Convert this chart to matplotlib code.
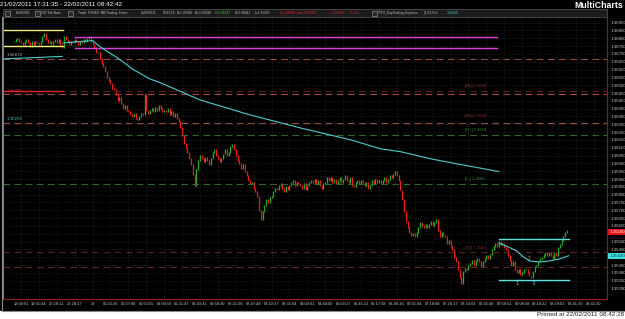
import numpy as np
import matplotlib.pyplot as plt
from matplotlib.patches import Rectangle
from matplotlib.lines import Line2D
from matplotlib.transforms import blended_transform_factory

plt.rcParams['font.family'] = ['Liberation Sans Narrow', 'Liberation Sans', 'DejaVu Sans']

W, H = 625, 319

# 200 tick bars, closes (first bar index = 5)
first_bar = 5
close = [
    1.3678, 1.3679, 1.3680, 1.3678, 1.3677,
    1.3676, 1.3678, 1.3679, 1.3677, 1.3675, 1.3678, 1.3676, 1.3678, 1.3677, 1.3676,
    1.3678, 1.3681, 1.3683, 1.3679, 1.3677, 1.3678, 1.3676, 1.3678, 1.3679, 1.3677,
    1.3679, 1.3676, 1.3674, 1.3681, 1.3679, 1.3678, 1.3676, 1.3678, 1.3677, 1.3679,
    1.3678, 1.3676, 1.3678, 1.3677, 1.3679, 1.3678, 1.3680, 1.3681, 1.3678, 1.3676,
    1.3674, 1.3671, 1.3671, 1.3667, 1.3664, 1.3662, 1.3659, 1.3655, 1.3653, 1.3651,
    1.3648, 1.3647, 1.3644, 1.3640, 1.3642, 1.3638, 1.3635, 1.3637, 1.3634, 1.3633,
    1.3631, 1.3630, 1.3632, 1.3629, 1.3628, 1.3630, 1.3632, 1.3631, 1.3644, 1.3634,
    1.3632, 1.3634, 1.3635, 1.3633, 1.3636, 1.3634, 1.3637, 1.3635, 1.3633, 1.3634,
    1.3633, 1.3635, 1.3631, 1.3633, 1.3630, 1.3632, 1.3629, 1.3627, 1.3623, 1.3618,
    1.3613, 1.3610, 1.3607, 1.3603, 1.3599, 1.3593, 1.3586, 1.3596, 1.3602, 1.3605,
    1.3603, 1.3601, 1.3604, 1.3602, 1.3599, 1.3603, 1.3607, 1.3609, 1.3605, 1.3603,
    1.3601, 1.3603, 1.3606, 1.3609, 1.3605, 1.3607, 1.3611, 1.3612, 1.3609, 1.3605,
    1.3602, 1.3600, 1.3597, 1.3599, 1.3595, 1.3592, 1.3589, 1.3587, 1.3588, 1.3584,
    1.3582, 1.3579, 1.3570, 1.3564, 1.3569, 1.3573, 1.3577, 1.3575, 1.3578, 1.3579,
    1.3582, 1.3584, 1.3583, 1.3586, 1.3587, 1.3584, 1.3582, 1.3585, 1.3583, 1.3586,
    1.3588, 1.3589, 1.3586, 1.3588, 1.3587, 1.3586, 1.3584, 1.3587, 1.3583, 1.3586,
    1.3588, 1.3589, 1.3588, 1.3590, 1.3587, 1.3589, 1.3586, 1.3584, 1.3587, 1.3588,
    1.3591, 1.3589, 1.3591, 1.3588, 1.3590, 1.3587, 1.3589, 1.3591, 1.3588, 1.3590,
    1.3592, 1.3589, 1.3588, 1.3591, 1.3586, 1.3585, 1.3588, 1.3589, 1.3587, 1.3589,
    1.3588, 1.3586, 1.3588, 1.3584, 1.3586, 1.3589, 1.3587, 1.3590, 1.3588, 1.3589,
    1.3587, 1.3589, 1.3591, 1.3588, 1.3590, 1.3592, 1.3591, 1.3593, 1.3595, 1.3592,
    1.3589, 1.3583, 1.3577, 1.3569, 1.3563, 1.3559, 1.3556, 1.3554, 1.3555, 1.3553,
    1.3556, 1.3559, 1.3562, 1.3560, 1.3559, 1.3561, 1.3559, 1.3561, 1.3563, 1.3560,
    1.3562, 1.3564, 1.3557, 1.3553, 1.3556, 1.3554, 1.3553, 1.3549, 1.3551, 1.3547,
    1.3545, 1.3540, 1.3537, 1.3532, 1.3527, 1.3523, 1.3531, 1.3533, 1.3532, 1.3535,
    1.3536, 1.3538, 1.3535, 1.3538, 1.3539, 1.3537, 1.3534, 1.3537, 1.3539, 1.3541,
    1.3539, 1.3542, 1.3545, 1.3547, 1.3549, 1.3547, 1.3550, 1.3548, 1.3549, 1.3546,
    1.3545, 1.3541, 1.3538, 1.3535, 1.3537, 1.3532, 1.3530, 1.3532, 1.3529, 1.3530,
    1.3532, 1.3532, 1.3530, 1.3528, 1.3527, 1.3531, 1.3534, 1.3535, 1.3537, 1.3539,
    1.3540, 1.3542, 1.3543, 1.3541, 1.3543, 1.3541, 1.3539, 1.3543, 1.3541, 1.3546,
    1.3548, 1.3551, 1.3553, 1.3556, 1.3557,
]

time_labels = ['18:00:01', '19:01:44', '20:28:11', '22:28:17', '22', '00:20:20', '00:37:08',
               '00:50:01', '01:04:59', '01:21:47', '01:43:41', '01:58:30', '02:21:06', '02:47:48',
               '03:10:37', '03:31:04', '04:09:01', '04:44:00', '05:09:27', '05:45:13', '06:17:58',
               '06:48:16', '07:05:04', '07:18:08', '07:26:17', '07:34:03', '07:45:48', '07:58:51',
               '08:08:58', '08:18:22', '08:29:01', '08:41:30', '08:42:30']
price_ticks = [1.3520 + 0.0005 * k for k in range(35)]

# keylines indicator
ma_left_x = [-1, 32]
ma_left_y = [1.36668, 1.36684]
ma_main_x = [32.5, 39, 49, 53, 63, 72, 81, 87, 109, 137, 165, 193, 210, 221, 238, 256, 276]
ma_main_y = [1.36770, 1.36777, 1.36785, 1.36747, 1.36674, 1.36598, 1.36540, 1.36515, 1.36406,
             1.36310, 1.36227, 1.36151, 1.36093, 1.36075, 1.36029, 1.35990, 1.35948]
ma_box_x = [276, 280, 286, 289, 293, 299, 304, 310, 315]
ma_box_y = [1.35490, 1.35472, 1.35440, 1.35408, 1.35376, 1.35370, 1.35376, 1.35389, 1.35410]

yellow_levels = [1.36851, 1.36751]
red_level = 1.36465
magenta_levels = [1.36807, 1.36736]
box_levels = [1.35516, 1.35255]
dashed_levels = [1.36670, 1.36465, 1.36442, 1.36257, 1.36182, 1.35867, 1.35432, 1.35336]
dashed_colors = ['#a04848', '#5a2020', '#a04848', '#a04848', '#2f6a2f', '#2f6a2f', '#5a2020', '#6a2424']
level_texts = [(1.36480, '[R2] 1.3645', '#8a3a3a'), (1.36290, '[R1] 1.3626', '#8a3a3a'),
               (1.36200, '[H+] 1.3618', '#3a8a3a'), (1.35885, '[L-] 1.3588', '#3a8a3a'),
               (1.35445, '[S1] 1.3543', '#7a2a2a')]

last_price = 1.3556
last_text = '1.35580'
ma_last_text = '1.35420'

fig = plt.figure(figsize=(W / 100, H / 100), dpi=100, facecolor='black')
ax = fig.add_axes([3 / W, 1 - 299 / H, 604 / W, 282 / H])
ax.set_facecolor('black')

c = np.array(close)
o = np.r_[c[0], c[:-1]]
x = np.arange(first_bar, first_bar + len(c))
up = c >= o
lo = np.minimum(o, c) - 0.00003
hi = np.maximum(o, c) + 0.00003
ax.vlines(x[up], lo[up], hi[up], color='#22b022', lw=0.9)
ax.vlines(x[~up], lo[~up], hi[~up], color='#ee1c1c', lw=0.9)

for i, lev in enumerate(dashed_levels):
    ax.axhline(lev, color=dashed_colors[i], lw=0.8, ls=(0, (6, 4)))
for lev in yellow_levels:
    ax.plot([-2, 32.5], [lev, lev], color='#f2f27a', lw=1.0)
ax.plot([-2, 32.5], [red_level, red_level], color='#e02020', lw=1.0)
for lev in magenta_levels:
    ax.plot([39, 275], [lev, lev], color='#e040e0', lw=1.0)
for lev in box_levels:
    ax.plot([276, 315], [lev, lev], color='#5ee0e0', lw=1.0)

ax.plot(ma_left_x, ma_left_y, color='#4ccccc', lw=0.8)
ax.plot(ma_main_x, ma_main_y, color='#4ccccc', lw=0.8)
ax.plot(ma_box_x, ma_box_y, color='#4ccccc', lw=0.8)

for y, t, col in level_texts:
    ax.text(257, y, t, color=col, fontsize=3.0, va='bottom')

ax.text(1, 1.36690, '1.36672', color='#9cc0c0', fontsize=3.2, va='center')
ax.text(1, red_level, '1.36431', color='#e03030', fontsize=3.2, va='center')
ax.text(1, 1.36284, '1.36268', color='#40c0c0', fontsize=3.2, va='center')
ax.text(286, 1.35220, '1', color='#5ee0e0', fontsize=4, ha='center')
ax.text(295, 1.35220, '3', color='#5ee0e0', fontsize=4, ha='center')
ax.text(293, 1.35385, '2', color='#aaaaaa', fontsize=3.4, ha='center')

ax.set_xlim(-1.06, 336.4)
ax.set_ylim(1.35133, 1.36936)
ax.set_xticks([9 + 10 * k for k in range(len(time_labels))])
ax.set_xticklabels(time_labels)
ax.yaxis.tick_right()
ax.set_yticks(price_ticks)
# labels hidden behind the last-price and indicator boxes
ax.set_yticklabels(['' if abs(p - 1.3555) < 1e-6 or abs(p - 1.3540) < 1e-6 else '%.5f' % p
                    for p in price_ticks])
ax.tick_params(axis='x', labelsize=2.9, colors='#c8c8c8', length=0, pad=2.5)
ax.tick_params(axis='y', labelsize=3.2, colors='#c8c8c8', length=0, pad=2.5)
ax.grid(True, color='#333333', ls=(0, (1, 2)), lw=0.5)
ax.spines['top'].set_visible(False)
ax.spines['left'].set_color('#7a7a7a')
ax.spines['bottom'].set_color('#8b1a1a')
ax.spines['right'].set_color('#8b1a1a')
for s in ax.spines.values():
    s.set_linewidth(0.8)

tr = blended_transform_factory(ax.transAxes, ax.transData)
ax.text(1.004, last_price, last_text, transform=tr, color='white', fontsize=3.2, va='center',
        bbox=dict(boxstyle='square,pad=0.25', fc='#e81010', ec='none'), clip_on=False)
ax.text(1.004, ma_box_y[-1], ma_last_text, transform=tr, color='#103030', fontsize=3.2, va='center',
        bbox=dict(boxstyle='square,pad=0.25', fc='#40e0e0', ec='none'), clip_on=False)

# header bar
fig.patches.append(Rectangle((3 / W, 1 - 17 / H), 604 / W, 8 / H, transform=fig.transFigure,
                             fc='#1c1c1c', ec='#5a5a5a', lw=0.5, zorder=5))
header = [(16, 'EUR/USD', '#c0c0c0'), (41, '200 Tick Bars', '#c0c0c0'),
          (78, 'Trade  FOREX  MB Trading  Forex', '#c0c0c0'), (141, '22/02/2011', '#c0c0c0'),
          (163, '08:42:10', '#c0c0c0'), (177, 'B=1.35588', '#c0c0c0'), (195, 'A=1.35588', '#c0c0c0'),
          (215, 'O=1.36183', '#30d030'), (235, 'H=1.36841', '#c0c0c0'), (255, 'L=1.35253', '#c0c0c0'),
          (280, 'C=1.35580', '#e02020'), (297, 'Last=1.35580', '#e02020'), (332, '-0.01108', '#e02020'),
          (350, '-0.81%', '#e02020'), (378, 'TTFX_DayTrading_Keylines', '#c0c0c0'),
          (424, '(4,0,0,0,0)', '#c0c0c0'), (447, '1.35420', '#40d0d0')]
for px, t, col in header:
    fig.text(px / W, 1 - 12.8 / H, t, color=col, fontsize=2.35, va='center', zorder=6)
for px in [5, 35, 68, 372]:
    fig.patches.append(Rectangle((px / W, 1 - 15.5 / H), 5 / W, 5 / H, transform=fig.transFigure,
                                 fc='#2a2a2a', ec='#a0a0a0', lw=0.4, zorder=6))

fig.text(0 / W, 1 - 5 / H, '21/02/2011 17:31:35 - 22/02/2011 08:42:42', color='white',
         fontsize=4.6, va='center')
fig.text(623 / W, 1 - 5 / H, 'MultiCharts', color='white', fontsize=6.3, fontweight='bold',
         ha='right', va='center')

# frame and footer
fig.patches.append(Rectangle((0, 0), 1, 8.5 / H, transform=fig.transFigure, fc='white', ec='none'))
fig.lines.append(Line2D([2 / W, 2 / W], [8.5 / H, 1 - 17 / H], color='#8a8a8a', lw=0.8,
                        transform=fig.transFigure))
fig.lines.append(Line2D([2 / W, 1], [8.5 / H, 8.5 / H], color='#8a8a8a', lw=0.8,
                        transform=fig.transFigure))
fig.text(624 / W, 1 - 314.5 / H, 'Printed at 22/02/2011 08:42:28', color='#202020', fontsize=4.6,
         ha='right', va='center')

fig.savefig('out.png', dpi=100, facecolor='black')
